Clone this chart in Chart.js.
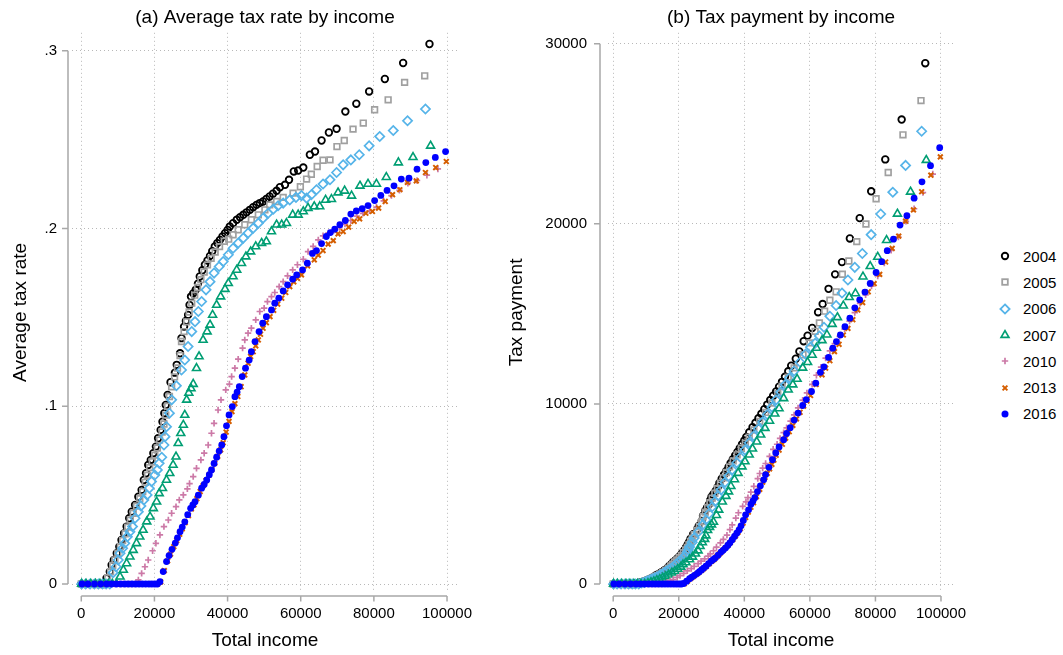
<!DOCTYPE html>
<html>
<head>
<meta charset="utf-8">
<title>Average tax rate and tax payment by income</title>
<script src="https://cdn.jsdelivr.net/npm/chart.js@4.4.1/dist/chart.umd.min.js"></script>
<style>
  html, body { margin: 0; padding: 0; background: #fff; }
  #wrap { position: relative; width: 1063px; height: 655px; overflow: hidden; font-family: "Liberation Sans", Arial, sans-serif; }
  #chartA { position: absolute; left: 0; top: 0; }
  #chartB { position: absolute; left: 500px; top: 0; }
  #legend { position: absolute; left: 996px; top: 243px; }
  .row { height: 26.3px; display: flex; align-items: center; font-size: 15px; color: #000; }
  .row svg { width: 18px; height: 18px; margin-right: 9px; flex: none; }
</style>
</head>
<body>
<div id="wrap">
  <canvas id="chartA" width="500" height="655"></canvas>
  <canvas id="chartB" width="480" height="655"></canvas>
  <div id="legend"></div>
</div>
<script>
// ---- data ----
const years = ['2004', '2005', '2006', '2007', '2010', '2013', '2016'];

const incomeTicks = [0, 20000, 40000, 60000, 80000, 100000];
const incomeTickLabels = ['0', '20000', '40000', '60000', '80000', '100000'];
const rateTicks = [0, 0.1, 0.2, 0.3];
const rateTickLabels = ['0', '.1', '.2', '.3'];
const paymentTicks = [0, 10000, 20000, 30000];
const paymentTickLabels = ['0', '10000', '20000', '30000'];

const income2004 = [
  0, 1100, 2200, 3300, 4400, 5400, 6300, 6900, 7800, 8300,
  8900, 9700, 10400, 11000, 11700, 12400, 13100, 13800, 14700, 15600,
  16500, 17100, 17700, 18300, 19000, 19700, 20400, 21000, 21700, 22200,
  22700, 23100, 23600, 24400, 25600, 26100, 27000, 27400, 28100, 28600,
  29200, 29600, 30000, 30600, 31300, 31900, 32400, 33100, 33800, 34500,
  35200, 35800, 36500, 37200, 37900, 38600, 39300, 40000, 40600, 41500,
  42500, 43400, 44300, 45200, 46100, 47000, 47900, 48800, 49700, 50600,
  51500, 52400, 53400, 54300, 55700, 56800, 58100, 59300, 60700, 62500,
  63900, 65700, 67700, 69800, 72200, 75200, 78700, 83000, 88000, 95200];
const rate2004 = [
  0, 0, 0, 0, 0, 0, 0, .0032, .0069, .0107,
  .0135, .0173, .021, .0248, .0285, .0323, .037, .0407, .0445, .0491,
  .0529, .0585, .0623, .067, .0698, .0736, .0773, .082, .0867, .0913,
  .0961, .1007, .1064, .1135, .1189, .1233, .1298, .1383, .1448, .148,
  .1514, .157, .1617, .1635, .1655, .169, .173, .1765, .1796, .182,
  .1846, .1872, .1899, .1918, .1936, .1955, .1974, .1992, .2011, .203,
  .2049, .2063, .2077, .2091, .2105, .212, .2133, .2143, .2152, .2166,
  .218, .2196, .2212, .2232, .2246, .2274, .2321, .2326, .2343, .2415,
  .2433, .2495, .254, .2561, .2658, .2702, .2771, .2841, .2931, .3038];
const payment2004 = [
  0, 0, 0, 0, 0, 0, 0, 22, 54, 89,
  120, 168, 218, 273, 333, 401, 485, 562, 654, 766,
  873, 1000, 1103, 1226, 1326, 1450, 1577, 1722, 1881, 2027,
  2181, 2326, 2511, 2769, 3044, 3218, 3505, 3789, 4069, 4233,
  4421, 4647, 4851, 5003, 5180, 5391, 5605, 5842, 6070, 6279,
  6498, 6702, 6931, 7135, 7337, 7546, 7758, 7968, 8165, 8425,
  8708, 8953, 9201, 9451, 9704, 9964, 10217, 10458, 10695, 10960,
  11227, 11507, 11812, 12120, 12510, 12916, 13485, 13793, 14222, 15094,
  15547, 16392, 17196, 17876, 19191, 20319, 21808, 23580, 25793, 28922];

const income2005 = [
  0, 1200, 2400, 3500, 4600, 5600, 6500, 7200, 8000, 8600,
  9200, 10000, 10700, 11300, 12000, 12700, 13400, 14200, 15100, 16000,
  16800, 17500, 18100, 18700, 19400, 20100, 20800, 21400, 22100, 22600,
  23100, 23600, 24100, 24700, 25500, 26300, 27000, 27400, 28100, 28800,
  29500, 30200, 31000, 31800, 32700, 33600, 34500, 35500, 36600, 37800,
  39100, 40300, 41500, 42900, 44700, 46500, 48400, 50200, 51500, 53400,
  55200, 57900, 59900, 61600, 62900, 64500, 66100, 68000, 69900, 71900,
  74300, 77100, 80200, 83900, 88400, 93900];
const rate2005 = [
  0, 0, 0, 0, 0, 0, 0, .0035, .007, .0105,
  .0135, .0172, .021, .0245, .0283, .032, .036, .0398, .0438, .048,
  .052, .0572, .0612, .0655, .0688, .0725, .0765, .081, .0855, .09,
  .095, .1, .1055, .111, .1165, .1215, .1285, .1364, .142, .1475,
  .153, .158, .1625, .1668, .1712, .1755, .1795, .1832, .1868, .1898,
  .1928, .194, .1965, .1993, .2021, .2049, .2077, .2105, .2133, .2152,
  .2175, .2199, .2235, .2278, .2305, .2349, .2384, .2386, .2461, .2495,
  .2559, .2593, .2668, .2724, .2822, .2859];
const payment2005 = [
  0, 0, 0, 0, 0, 0, 0, 25, 56, 90,
  124, 172, 225, 277, 340, 406, 482, 565, 661, 768,
  874, 1001, 1108, 1225, 1335, 1457, 1591, 1733, 1890, 2034,
  2195, 2360, 2543, 2742, 2971, 3195, 3470, 3737, 3990, 4248,
  4514, 4772, 5038, 5304, 5598, 5897, 6193, 6504, 6837, 7174,
  7538, 7818, 8155, 8550, 9034, 9528, 10053, 10567, 10985, 11492,
  12006, 12732, 13388, 14032, 14498, 15151, 15758, 16225, 17202, 17939,
  19013, 19992, 21397, 22854, 24946, 26846];

const income2006 = [
  100, 1200, 2400, 3600, 4700, 5800, 6800, 7800, 8700, 9500,
  10100, 10600, 11300, 11900, 12600, 13300, 14000, 14700, 15600, 16300,
  17100, 18000, 18600, 19200, 20100, 20800, 21300, 22000, 22600, 22900,
  23300, 24100, 24700, 26000, 27400, 28300, 29200, 30200, 31100, 32000,
  32900, 34100, 35200, 36300, 37700, 38800, 40200, 41500, 42900, 44300,
  45600, 47000, 48400, 49700, 51100, 52500, 53800, 55200, 57000, 58700,
  60200, 61600, 62900, 64300, 66100, 68000, 69800, 71600, 73700, 76000,
  78700, 81600, 85300, 89200, 94100];
const rate2006 = [
  0, 0, 0, 0, 0, 0, 0, 0, .0064, .0097,
  .0135, .0173, .0201, .0229, .0266, .0294, .0323, .037, .0407, .0439,
  .0473, .0501, .0539, .0576, .0613, .0642, .0679, .0713, .0782, .0829,
  .0885, .0961, .1036, .1115, .1204, .126, .1336, .142, .1476, .1533,
  .1589, .1655, .1701, .1749, .1786, .1814, .1852, .1889, .1918, .1946,
  .1974, .2002, .203, .2058, .2086, .2109, .2128, .2143, .2161, .2175,
  .2185, .2171, .219, .2218, .225, .2274, .2315, .2358, .2386, .2415,
  .2465, .2518, .2551, .2606, .2672];
const payment2006 = [
  0, 0, 0, 0, 0, 0, 0, 0, 56, 92,
  136, 183, 227, 273, 335, 391, 452, 544, 635, 716,
  809, 902, 1003, 1106, 1232, 1335, 1446, 1569, 1767, 1898,
  2062, 2316, 2559, 2899, 3299, 3566, 3901, 4288, 4590, 4906,
  5228, 5644, 5988, 6349, 6733, 7038, 7445, 7839, 8228, 8621,
  9001, 9409, 9825, 10228, 10659, 11072, 11449, 11829, 12318, 12767,
  13154, 13373, 13775, 14262, 14873, 15463, 16159, 16883, 17585, 18354,
  19400, 20547, 21760, 23246, 25144];

const income2007 = [
  100, 1300, 2600, 3900, 5100, 6300, 7400, 8500, 9600, 10600,
  11500, 12400, 13300, 14200, 15100, 16000, 16900, 17900, 18800, 19700,
  20600, 21300, 22200, 23300, 24200, 25100, 25900, 26500, 27200, 27900,
  28300, 28800, 29400, 30000, 30600, 31500, 32200, 33300, 34400, 35200,
  35900, 37000, 38100, 39300, 40200, 41500, 42500, 43800, 45000, 46300,
  47700, 49300, 50600, 52000, 53400, 54800, 56100, 57800, 59300, 60700,
  62000, 63700, 65200, 66800, 68400, 70200, 72000, 73900, 76200, 78400,
  80700, 83400, 86700, 90700, 95500];
const rate2007 = [
  0, 0, 0, 0, 0, 0, 0, 0, 0, .0041,
  .0079, .0116, .0154, .0191, .0229, .0266, .0304, .0351, .0379, .0426,
  .0463, .051, .0539, .0585, .0623, .067, .0716, .0792, .0848, .0895,
  .0951, .1036, .1075, .110, .1125, .1214, .128, .1373, .142, .1458,
  .1514, .157, .1617, .1659, .1692, .173, .1767, .1805, .1842, .187,
  .1899, .1918, .1927, .1983, .2021, .2021, .203, .2077, .2077, .2096,
  .2115, .2124, .2124, .2161, .2165, .2202, .2212, .2184, .224, .2251,
  .2251, .2289, .2371, .2401, .2465];
const payment2007 = [
  0, 0, 0, 0, 0, 0, 0, 0, 0, 43,
  91, 144, 205, 271, 346, 426, 514, 628, 713, 839,
  954, 1086, 1197, 1363, 1508, 1682, 1854, 2099, 2307, 2497,
  2691, 2984, 3161, 3300, 3443, 3824, 4122, 4572, 4885, 5132,
  5435, 5809, 6161, 6520, 6802, 7180, 7510, 7906, 8289, 8658,
  9058, 9456, 9751, 10312, 10792, 11075, 11388, 12005, 12317, 12723,
  13113, 13530, 13848, 14435, 14809, 15458, 15926, 16140, 17069, 17648,
  18166, 19090, 20557, 21777, 23541];

const income2010 = [
  200, 1700, 3400, 5000, 6500, 7900, 9200, 10400, 11500, 12600,
  13600, 14600, 15600, 16500, 17400, 18300, 19500, 20400, 21500, 22600,
  23800, 24700, 25900, 26800, 27900, 29000, 29600, 30600, 31500, 32700,
  33600, 34700, 35600, 36300, 37400, 38200, 39500, 40500, 41100, 42000,
  42900, 44100, 44700, 45600, 46500, 47700, 48800, 50000, 50900, 52000,
  52900, 54100, 55200, 56400, 57800, 59100, 60700, 62000, 63400, 64800,
  66100, 67600, 69100, 70600, 72100, 73700, 75300, 77000, 78800, 80700,
  82700, 84800, 87000, 89300, 91800, 94500, 97500];
const rate2010 = [
  0, 0, 0, 0, 0, 0, 0, 0, 0, 0,
  0, 0, .0023, .006, .0097, .0135, .0187, .0229, .0276, .0323,
  .036, .0398, .0435, .0473, .0501, .0535, .0565, .0604, .0651, .0698,
  .0736, .0782, .0848, .0904, .0979, .1036, .1092, .1125, .1167, .1214,
  .1265, .1327, .1373, .1411, .1439, .1486, .1533, .1552, .1589, .1617,
  .164, .1673, .1701, .1734, .1767, .1796, .1827, .187, .1899, .1936,
  .1959, .1975, .199, .2005, .2025, .2045, .207, .2085, .21, .212,
  .2155, .2185, .2215, .2255, .227, .23, .2335];
const payment2010 = [
  0, 0, 0, 0, 0, 0, 0, 0, 0, 0,
  0, 0, 36, 99, 169, 247, 365, 467, 593, 730,
  857, 983, 1127, 1268, 1398, 1552, 1672, 1848, 2051, 2282,
  2473, 2714, 3019, 3282, 3661, 3958, 4313, 4556, 4796, 5099,
  5427, 5852, 6137, 6434, 6691, 7088, 7481, 7760, 8088, 8408,
  8676, 9051, 9390, 9780, 10213, 10614, 11090, 11594, 12040, 12545,
  12949, 13351, 13751, 14155, 14600, 15072, 15587, 16055, 16548, 17108,
  17822, 18529, 19271, 20137, 20839, 21735, 22766];

const income2013 = [
  300, 1900, 3700, 5400, 7000, 8400, 9700, 10900, 12000, 13000,
  14000, 15000, 15900, 16800, 17700, 18600, 19400, 20200, 20900, 21700,
  22700, 23600, 24400, 25300, 26100, 26900, 27600, 28400, 29300, 30100,
  30800, 31600, 32500, 33300, 34100, 34900, 35700, 36500, 37300, 38100,
  38800, 39600, 40400, 41200, 42000, 42800, 43700, 44700, 45600, 46300,
  47000, 47700, 48400, 49000, 49700, 50600, 51600, 52600, 53700, 54800,
  55900, 57000, 58100, 59100, 60200, 61900, 63700, 64800, 66100, 67500,
  68900, 70200, 71600, 73100, 74600, 76100, 77800, 79600, 81300, 83100,
  85100, 87100, 89200, 91600, 94100, 96900, 99800];
const rate2013 = [
  0, 0, 0, 0, 0, 0, 0, 0, 0, 0,
  0, 0, 0, 0, 0, 0, 0, 0, 0, .0012,
  .0075, .013, .0168, .021, .0245, .028, .031, .0345, .0385, .0422,
  .0445, .048, .052, .0553, .0582, .0612, .0645, .068, .0718, .0755,
  .0795, .0855, .0915, .097, .1015, .1055, .111, .1176, .1242, .128,
  .1307, .134, .1373, .1405, .1439, .147, .1504, .154, .1575, .1608,
  .164, .1673, .17, .172, .1739, .179, .1824, .185, .1876, .1912,
  .1932, .197, .1983, .2008, .204, .2054, .2086, .2096, .2115, .2152,
  .219, .2218, .2259, .2268, .2315, .2343, .2377];
const payment2013 = [
  0, 0, 0, 0, 0, 0, 0, 0, 0, 0,
  0, 0, 0, 0, 0, 0, 0, 0, 0, 26,
  170, 307, 410, 531, 639, 753, 856, 980, 1128, 1270,
  1371, 1517, 1690, 1841, 1985, 2136, 2303, 2482, 2678, 2877,
  3085, 3386, 3697, 3996, 4263, 4515, 4851, 5257, 5664, 5926,
  6143, 6392, 6645, 6885, 7152, 7438, 7761, 8100, 8458, 8812,
  9168, 9536, 9877, 10165, 10469, 11080, 11619, 11988, 12400, 12906,
  13311, 13829, 14198, 14678, 15218, 15631, 16229, 16684, 17195, 17883,
  18637, 19319, 20150, 20775, 21784, 22704, 23722];

const income2016 = [
  200, 1800, 3600, 5300, 6900, 8300, 9600, 10800, 11900, 12900,
  13900, 14900, 15800, 16700, 17600, 18500, 19300, 20100, 20800, 21500,
  22400, 23300, 24000, 24800, 25700, 26300, 27000, 27600, 28300, 29100,
  29900, 30500, 31100, 32000, 32900, 33600, 34300, 35000, 35600, 36300,
  37000, 37700, 38400, 39000, 39700, 40400, 41300, 42000, 42600, 43200,
  44000, 44900, 45900, 46500, 47500, 48600, 49600, 50600, 52000, 52900,
  54000, 55200, 56400, 57800, 58900, 60500, 61800, 63200, 64300, 65700,
  67000, 68100, 69300, 70700, 72200, 73700, 75200, 76800, 78400, 80200,
  81900, 83600, 85500, 87500, 89600, 91800, 94200, 96800, 99600];
const rate2016 = [
  0, 0, 0, 0, 0, 0, 0, 0, 0, 0,
  0, 0, 0, 0, 0, 0, 0, 0, 0, .0013,
  .007, .0126, .016, .0195, .023, .026, .0294, .032, .035, .039,
  .0426, .0445, .0463, .05, .0539, .056, .0585, .0615, .0642, .0678,
  .0713, .0748, .0782, .0829, .089, .0951, .0998, .1054, .108, .111,
  .1167, .1214, .126, .1307, .1364, .142, .1467, .1504, .1542, .158,
  .1608, .1649, .1683, .1715, .1739, .1767, .1805, .186, .1876, .1915,
  .1955, .1977, .1996, .2021, .2045, .2081, .2099, .2111, .2129, .2157,
  .2186, .2214, .224, .2278, .2283, .2334, .2371, .24, .2433];
const payment2016 = [
  0, 0, 0, 0, 0, 0, 0, 0, 0, 0,
  0, 0, 0, 0, 0, 0, 0, 0, 0, 28,
  157, 294, 384, 484, 591, 684, 794, 883, 991, 1135,
  1274, 1357, 1440, 1600, 1773, 1882, 2007, 2153, 2286, 2461,
  2638, 2820, 3003, 3233, 3533, 3842, 4122, 4427, 4601, 4795,
  5135, 5451, 5783, 6078, 6479, 6901, 7276, 7610, 8018, 8358,
  8683, 9102, 9492, 9913, 10243, 10690, 11155, 11755, 12063, 12582,
  13099, 13463, 13832, 14288, 14765, 15337, 15784, 16212, 16691, 17299,
  17903, 18509, 19152, 19933, 20456, 21426, 22335, 23232, 24233];

const incomeSeries = [income2004, income2005, income2006, income2007, income2010, income2013, income2016];
const rateSeries = [rate2004, rate2005, rate2006, rate2007, rate2010, rate2013, rate2016];
const paymentSeries = [payment2004, payment2005, payment2006, payment2007, payment2010, payment2013, payment2016];

// ---- marker styles (Stata-like) ----
const markers = [
  { shape: 'circle',   color: '#000000', radius: 3.3, line: 1.8, filled: false },
  { shape: 'rect',     color: '#a0a0a0', radius: 4.0, line: 1.7, filled: false },
  { shape: 'rectRot',  color: '#56b4e9', radius: 4.6, line: 1.7, filled: false },
  { shape: 'triangle', color: '#009e73', radius: 4.6, line: 1.6, filled: false },
  { shape: 'cross',    color: '#cc79a7', radius: 3.2, line: 1.7, filled: false },
  { shape: 'crossRot', color: '#d55e00', radius: 3.4, line: 2.0, filled: false },
  { shape: 'circle',   color: '#0000ff', radius: 3.4, line: 0,   filled: true }
];

const FONT = '"Liberation Sans", Arial, sans-serif';
Chart.defaults.font.family = FONT;
Chart.defaults.color = '#000';

function buildDatasets(values) {
  return years.map((yr, k) => {
    const m = markers[k];
    return {
      label: yr,
      data: incomeSeries[k].map((x, i) => ({ x: x, y: values[k][i] })),
      showLine: false,
      pointStyle: m.shape,
      pointRadius: m.radius,
      pointHoverRadius: m.radius,
      pointBorderWidth: m.line,
      pointBorderColor: m.color,
      pointBackgroundColor: m.filled ? m.color : 'rgba(0,0,0,0)',
      order: years.length - k   // later years drawn on top
    };
  });
}

// axis lines drawn a few pixels away from the plot region, like Stata does
const offsetAxes = {
  id: 'offsetAxes',
  afterDraw(chart, args, opts) {
    const { ctx, chartArea } = chart;
    const xs = chart.scales.x, ys = chart.scales.y;
    const ax = chartArea.left - opts.gapY;
    const ay = chartArea.bottom + opts.gapX;
    const yt = ys.ticks.map(t => ys.getPixelForValue(t.value));
    const xt = xs.ticks.map(t => xs.getPixelForValue(t.value));
    ctx.save();
    ctx.strokeStyle = '#a8a8a8';
    ctx.lineWidth = 1.5;
    ctx.beginPath();
    ctx.moveTo(ax, Math.max(...yt));
    ctx.lineTo(ax, Math.min(...yt));
    yt.forEach(p => { ctx.moveTo(ax - opts.tickY, p); ctx.lineTo(ax, p); });
    ctx.moveTo(Math.min(...xt), ay);
    ctx.lineTo(Math.max(...xt), ay);
    xt.forEach(p => { ctx.moveTo(p, ay); ctx.lineTo(p, ay + opts.tickX); });
    ctx.stroke();
    ctx.restore();
  }
};

function panelOptions(cfg) {
  return {
    responsive: false,
    animation: false,
    layout: { padding: { left: 0, right: cfg.padRight, top: 0, bottom: 0 } },
    plugins: {
      legend: { display: false },
      tooltip: { enabled: false },
      title: {
        display: true,
        text: cfg.title,
        fullSize: false,
        color: '#000',
        font: { size: 19, weight: 'normal', family: FONT },
        padding: { top: 6, bottom: 4 }
      },
      offsetAxes: { gapY: cfg.gapY, gapX: 4, tickY: 6, tickX: 5.5 }
    },
    scales: {
      x: {
        type: 'linear',
        min: cfg.xMin,
        max: cfg.xMax,
        afterFit: s => { s.height = 63; },
        afterBuildTicks: s => { s.ticks = incomeTicks.map(v => ({ value: v })); },
        ticks: {
          autoSkip: false,
          maxRotation: 0,
          padding: 13,
          font: { size: 15 },
          color: '#000',
          callback: v => incomeTickLabels[incomeTicks.indexOf(v)]
        },
        grid: { color: '#b8b8b8', lineWidth: 1, drawTicks: false },
        border: { display: false, dash: [1, 3] },
        title: {
          display: true,
          text: 'Total income',
          color: '#000',
          font: { size: 19, family: FONT },
          padding: { top: 0, bottom: 3 }
        }
      },
      y: {
        type: 'linear',
        min: cfg.yMin,
        max: cfg.yMax,
        afterFit: s => { s.width = cfg.yWidth; },
        afterBuildTicks: s => { s.ticks = cfg.yTicks.map(v => ({ value: v })); },
        ticks: {
          padding: cfg.yLabelPad,
          font: { size: 15 },
          color: '#000',
          callback: v => cfg.yTickLabels[cfg.yTicks.indexOf(v)]
        },
        grid: { color: '#b8b8b8', lineWidth: 1, drawTicks: false },
        border: { display: false, dash: [1, 3] },
        title: {
          display: true,
          text: cfg.yTitle,
          color: '#000',
          font: { size: 19, family: FONT },
          padding: { top: cfg.yTitlePad, bottom: 0 }
        }
      }
    }
  };
}

new Chart(document.getElementById('chartA'), {
  type: 'scatter',
  data: { datasets: buildDatasets(rateSeries) },
  options: panelOptions({
    title: '(a) Average tax rate by income',
    yTitle: 'Average tax rate',
    padRight: 42, yWidth: 72, yLabelPad: 15, yTitlePad: 9.2, gapY: 4,
    xMin: -2540, xMax: 103000,
    yMin: -0.0045, yMax: 0.3101,
    yTicks: rateTicks, yTickLabels: rateTickLabels
  }),
  plugins: [offsetAxes]
});

new Chart(document.getElementById('chartB'), {
  type: 'scatter',
  data: { datasets: buildDatasets(paymentSeries) },
  options: panelOptions({
    title: '(b) Tax payment by income',
    yTitle: 'Tax payment',
    padRight: 20, yWidth: 108, yLabelPad: 21, yTitlePad: 5.6, gapY: 8,
    xMin: -1590, xMax: 103990,
    yMin: -444, yMax: 30611,
    yTicks: paymentTicks, yTickLabels: paymentTickLabels
  }),
  plugins: [offsetAxes]
});

// ---- legend (right side) ----
function markerSvg(m) {
  const c = m.color;
  let shape;
  if (m.shape === 'circle' && m.filled) shape = `<circle cx="9" cy="9" r="3.5" fill="${c}"/>`;
  else if (m.shape === 'circle') shape = `<circle cx="9" cy="9" r="3.2" fill="none" stroke="${c}" stroke-width="1.9"/>`;
  else if (m.shape === 'rect') shape = `<rect x="6.2" y="6.2" width="5.6" height="5.6" fill="none" stroke="${c}" stroke-width="1.8"/>`;
  else if (m.shape === 'rectRot') shape = `<polygon points="9,4.4 13.6,9 9,13.6 4.4,9" fill="none" stroke="${c}" stroke-width="1.8"/>`;
  else if (m.shape === 'triangle') shape = `<polygon points="9,4.6 12.9,11.3 5.1,11.3" fill="none" stroke="${c}" stroke-width="1.7"/>`;
  else if (m.shape === 'cross') shape = `<path d="M9 5.8V12.2M5.8 9H12.2" stroke="${c}" stroke-width="1.7"/>`;
  else shape = `<path d="M6.6 6.6L11.4 11.4M11.4 6.6L6.6 11.4" stroke="${c}" stroke-width="2"/>`;
  return `<svg viewBox="0 0 18 18">${shape}</svg>`;
}
document.getElementById('legend').innerHTML = years.map((yr, k) =>
  `<div class="row">${markerSvg(markers[k])}<span>${yr}</span></div>`).join('');
</script>
</body>
</html>
